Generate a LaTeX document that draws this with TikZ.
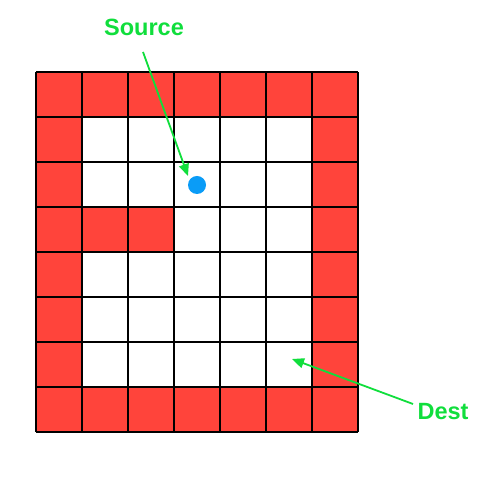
\documentclass[tikz,border=0pt]{standalone}
\usepackage{fontspec}
\setmainfont{Liberation Sans}
\usetikzlibrary{arrows.meta}
\definecolor{wall-red}{HTML}{FF443B}
\definecolor{label-green}{HTML}{10DE3C}
\definecolor{dot-blue}{HTML}{0A9CF7}

\begin{document}
\begin{tikzpicture}[x=1pt, y=1pt,
      every node/.style={font=\bfseries\fontsize{23.5}{26}\selectfont},
      pointer/.style={draw=label-green, line width=1.8pt,
                      -{Triangle[length=12pt, width=10pt]}}]
    \useasboundingbox (0,0) rectangle (497,486);
    % walls and free cells
    \fill[wall-red] (36,54) rectangle (358,414);
    \fill[white] (82,99) rectangle (312,369);
    \fill[wall-red] (82,234) rectangle (174,279);
    % grid lines
    \foreach \i in {0,...,7}
      \draw[line width=2pt] (36+46*\i,54) -- (36+46*\i,414);
    \foreach \j in {0,...,8}
      \draw[line width=2pt] (36,54+45*\j) -- (358,54+45*\j);
    \node[circle, fill=dot-blue, inner sep=0pt, minimum size=18pt]
          (DOT) at (197,301) {};
    \node[text=label-green, inner sep=0pt] (SRC) at (144,459) {Source};
    \node[text=label-green, inner sep=0pt] (DST) at (443,74) {Dest};
    \coordinate (SRCtail) at (143,434);
    \coordinate (SRCtip) at (188,310);
    \coordinate (DSTtail) at (413,82);
    \coordinate (DSTtip) at (292,127);
    \draw[pointer] (SRCtail) -- (SRCtip);
    \draw[pointer] (DSTtail) -- (DSTtip);
  \end{tikzpicture}
\end{document}
